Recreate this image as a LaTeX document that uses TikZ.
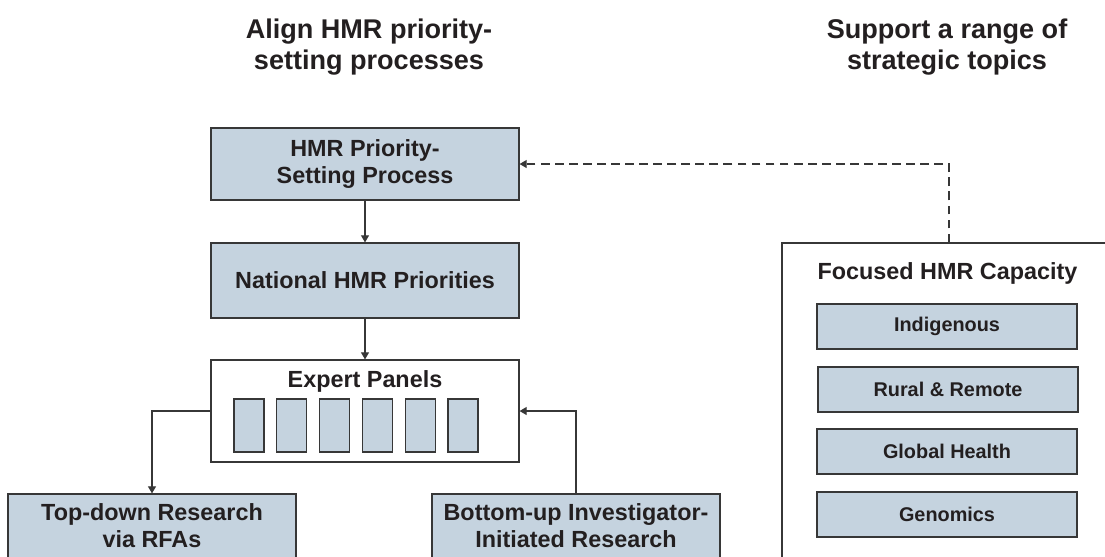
\documentclass[tikz,border=0pt]{standalone}
\usepackage{fontspec}
\setmainfont{Liberation Sans}
\usetikzlibrary{arrows.meta}
\definecolor{boxfill}{RGB}{197,211,223}
\definecolor{linecol}{RGB}{55,55,55}
\definecolor{inkcol}{RGB}{35,31,32}

\tikzset{
  mainbox/.style={draw=linecol, line width=0.7pt, fill=boxfill, text=inkcol,
    font=\fontsize{13.3}{15.3}\selectfont\bfseries, align=center, inner sep=0pt},
  framebox/.style={draw=linecol, line width=0.7pt, fill=white, inner sep=0pt},
  topicbox/.style={mainbox, font=\fontsize{11.3}{13}\selectfont\bfseries,
    minimum width=5.2cm, minimum height=0.9cm},
  panelbox/.style={draw=linecol, line width=0.7pt, fill=boxfill, inner sep=0pt,
    minimum width=0.6cm, minimum height=1.06cm},
  heading/.style={text=inkcol, font=\fontsize{15.4}{18}\selectfont\bfseries, align=center},
  flow/.style={draw=linecol, line width=0.7pt, -{Triangle[length=4pt,width=4.5pt]}},
}

\begin{document}
\begin{tikzpicture}[x=0.02cm, y=-0.02cm]
        \clip (0,0) rectangle (1105,556);
        \fill[white] (0,0) rectangle (1105,556);

        % Headings
        \node[heading] (headL) at (369,47) {Align HMR priority-\\setting processes};
        \node[heading] (headR) at (947,47) {Support a range of\\strategic topics};

        % Priority-setting chain
        \node[mainbox, minimum width=6.16cm, minimum height=1.44cm] (setting) at (365,164) {HMR Priority-\\Setting Process};
        \node[mainbox, minimum width=6.16cm, minimum height=1.5cm] (national) at (365,280.5) {National HMR Priorities};

        % Expert panels
        \node[framebox, minimum width=6.16cm, minimum height=2.04cm] (panels) at (365,411) {};
        \node[anchor=base, text=inkcol, font=\fontsize{13.3}{14.7}\selectfont\bfseries] (panelsT) at (365,387.5) {Expert Panels};
        \foreach \i in {0,...,5}
            \node[panelbox] (panel\i) at ({249+42.8*\i},425.5) {};

        % Research streams (cut off at the bottom)
        \node[mainbox, minimum width=5.76cm, minimum height=1.28cm] (topdown) at (152,526) {Top-down Research\\via RFAs};
        \node[mainbox, minimum width=5.76cm, minimum height=1.28cm] (bottomup) at (576,526) {Bottom-up Investigator-\\Initiated Research};

        % Focused capacity
        \node[framebox, minimum width=6.68cm, minimum height=6.64cm] (focused) at (949,409) {};
        \node[anchor=base, text=inkcol, font=\fontsize{13.3}{14.7}\selectfont\bfseries] (focusedT) at (947.5,279) {Focused HMR Capacity};
        \node[topicbox] (indig) at (947,326.5) {Indigenous};
        \node[topicbox] (rural) at (948,389.5) {Rural \& Remote};
        \node[topicbox] (global) at (947,451.5) {Global Health};
        \node[topicbox] (genom) at (947,514.5) {Genomics};

        % Connectors
        \draw[flow] (setting) -- (national);
        \draw[flow] (national) -- (panels);
        \draw[flow] (panels.west) -| (topdown.north);
        \draw[flow] (bottomup.north) |- (panels.east);
        \draw[flow, dash pattern=on 5pt off 3pt] (focused.north) |- (setting.east);
    \end{tikzpicture}
\end{document}
